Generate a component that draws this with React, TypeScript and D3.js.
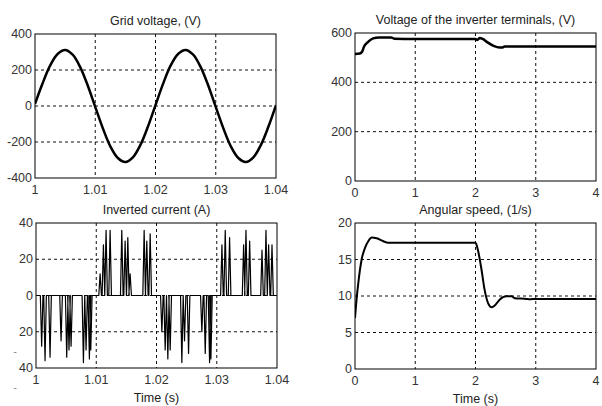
import React from 'react';
import * as d3 from 'd3';

// ---- Data ----
const gridTime = [1, 1.00125, 1.0025, 1.00375, 1.005, 1.00625, 1.0075, 1.00875, 1.01, 1.01125, 1.0125, 1.01375, 1.015, 1.01625, 1.0175, 1.01875, 1.02, 1.02125, 1.0225, 1.02375, 1.025, 1.02625, 1.0275, 1.02875, 1.03, 1.03125, 1.0325, 1.03375, 1.035, 1.03625, 1.0375, 1.03875, 1.04];
const gridVolt = [12, 125, 224, 289, 311, 285, 216, 114, -5, -123, -224, -289, -311, -285, -216, -114, 5, 123, 224, 289, 311, 285, 216, 114, -5, -123, -224, -289, -311, -285, -216, -114, 5];

const spikeTimes = [1.00094, 1.0015, 1.00233, 1.00416, 1.0051, 1.00548, 1.00582, 1.00787, 1.00831, 1.00886, 1.00909,
  1.01064, 1.01119, 1.01163, 1.0123, 1.01424, 1.01479, 1.01524, 1.01562, 1.01795, 1.01839, 1.01895,
  1.02089, 1.02144, 1.02188, 1.02227, 1.02421, 1.02465, 1.02532, 1.02753, 1.02809, 1.02881, 1.02903,
  1.03086, 1.03141, 1.03213, 1.03446, 1.03485, 1.03546, 1.03751, 1.03817, 1.03861, 1.03917];
const spikePeaks = [-28, -36, -34, -25, -34, -30, -28, -37, -30, -35, -30,
  12, 28, 36, 36, 36, 30, 32, 12, 36, 30, 34,
  -20, -30, -35, -30, -37, -25, -32, -20, -32, -37, -35,
  28, 36, 32, 28, 36, 30, 25, 36, 28, 28];

const invTime = [0, 0.08, 0.12, 0.15, 0.2, 0.3, 0.4, 0.6, 0.65, 1.0, 2.0, 2.03, 2.07, 2.12, 2.2, 2.3, 2.4, 2.45, 2.48, 3.0, 4.0];
const invVolt = [515, 517, 525, 545, 560, 578, 582, 582, 577, 576, 576, 572, 580, 576, 562, 548, 541, 541, 545, 545, 545];

const speedTime = [0, 0.02, 0.055, 0.11, 0.166, 0.22, 0.28, 0.36, 0.47, 0.55, 1.0, 2.0, 2.04, 2.1, 2.15, 2.21, 2.27, 2.32, 2.4, 2.51, 2.6, 2.65, 2.85, 2.9, 3.0, 4.0];
const speedVal = [7.0, 9.0, 11.8, 15.0, 16.6, 17.5, 18.0, 17.9, 17.5, 17.3, 17.3, 17.3, 16.3, 13.6, 10.9, 9.0, 8.45, 8.7, 9.5, 9.95, 9.95, 9.7, 9.6, 9.55, 9.6, 9.6];

const gridXTicks = [1, 1.01, 1.02, 1.03, 1.04];
const gridXLabels = ['1', '1.01', '1.02', '1.03', '1.04'];
const gridYTicks = [-400, -200, 0, 200, 400];
const gridYLabels = ['-400', '-200', '0', '200', '400'];
const curYTicks = [-40, -20, 0, 20, 40];
const curYLabels = ['40', '20', '0', '20', '40'];
const secXTicks = [0, 1, 2, 3, 4];
const secXLabels = ['0', '1', '2', '3', '4'];
const invYTicks = [0, 200, 400, 600];
const invYLabels = ['0', '200', '400', '600'];
const speedYTicks = [0, 5, 10, 15, 20];
const speedYLabels = ['0', '5', '10', '15', '20'];

type Pt = [number, number];

const FONT = 'Arial, "Liberation Sans", sans-serif';

interface PanelProps {
  id: string;
  left: number; top: number; right: number; bottom: number;
  xTicks: number[]; xLabels: string[];
  yTicks: number[]; yLabels: string[];
  title: string; xLabel?: string;
  data: Pt[];
  sw: number;
  curve: d3.CurveFactory;
}

function Panel(p: PanelProps) {
  const x = d3.scaleLinear().domain([p.xTicks[0], p.xTicks[p.xTicks.length - 1]]).range([p.left, p.right]);
  const y = d3.scaleLinear().domain([p.yTicks[0], p.yTicks[p.yTicks.length - 1]]).range([p.bottom, p.top]);
  const line = d3.line<Pt>().x(d => x(d[0])).y(d => y(d[1])).curve(p.curve);
  const cx = (p.left + p.right) / 2;
  return (
    <g>
      <defs>
        <clipPath id={p.id}>
          <rect x={p.left} y={p.top - 2} width={p.right - p.left} height={p.bottom - p.top + 4} />
        </clipPath>
      </defs>
      {p.xTicks.slice(1, -1).map(t => (
        <line key={'gx' + t} x1={x(t)} x2={x(t)} y1={p.top} y2={p.bottom} stroke="#111" strokeWidth={1} strokeDasharray="3,3" />
      ))}
      {p.yTicks.slice(1, -1).map(t => (
        <line key={'gy' + t} x1={p.left} x2={p.right} y1={y(t)} y2={y(t)} stroke="#111" strokeWidth={1} strokeDasharray="3,3" />
      ))}
      <path d={line(p.data) || ''} fill="none" stroke="#000" strokeWidth={p.sw} strokeLinejoin="round" clipPath={`url(#${p.id})`} />
      <rect x={p.left} y={p.top} width={p.right - p.left} height={p.bottom - p.top} fill="none" stroke="#000" strokeWidth={1} />
      {p.xTicks.map((t, i) => (
        <text key={'xl' + t} x={x(t)} y={p.bottom + 16} textAnchor="middle" fontSize={12.5} fill="#333" fontFamily={FONT}>{p.xLabels[i]}</text>
      ))}
      {p.yTicks.map((t, i) => (
        <text key={'yl' + t} x={p.left - 3} y={y(t) + 4} textAnchor="end" fontSize={12.5} fill="#333" fontFamily={FONT}>{p.yLabels[i]}</text>
      ))}
      <text x={cx} y={p.top - 9} textAnchor="middle" fontSize={12.5} fill="#222" fontFamily={FONT}>{p.title}</text>
      {p.xLabel && (
        <text x={cx} y={p.bottom + 34} textAnchor="middle" fontSize={12.5} fill="#222" fontFamily={FONT}>{p.xLabel}</text>
      )}
    </g>
  );
}

export default function App() {
  const gridData: Pt[] = gridTime.map((t, i) => [t, gridVolt[i]]);
  const curData: Pt[] = [[1, 0]];
  spikeTimes.forEach((t, i) => {
    curData.push([t - 0.00022, 0], [t, spikePeaks[i]], [t + 0.00022, 0]);
  });
  curData.push([1.04, 0]);
  const invData: Pt[] = invTime.map((t, i) => [t, invVolt[i]]);
  const speedData: Pt[] = speedTime.map((t, i) => [t, speedVal[i]]);

  return (
    <svg width={602} height={406} style={{ position: 'fixed', left: 0, top: 0, background: '#fff' }}>
      <rect x={0} y={0} width={602} height={406} fill="#fff" />
      <Panel id="c1" left={35} top={34} right={276} bottom={178}
        xTicks={gridXTicks} xLabels={gridXLabels} yTicks={gridYTicks} yLabels={gridYLabels}
        title="Grid voltage, (V)" data={gridData} sw={2.5} curve={d3.curveCatmullRom} />
      <Panel id="c2" left={355} top={33} right={596} bottom={181}
        xTicks={secXTicks} xLabels={secXLabels} yTicks={invYTicks} yLabels={invYLabels}
        title="Voltage of the inverter terminals, (V)" data={invData} sw={2.5} curve={d3.curveMonotoneX} />
      <Panel id="c3" left={36} top={223} right={277} bottom={368}
        xTicks={gridXTicks} xLabels={gridXLabels} yTicks={curYTicks} yLabels={curYLabels}
        title="Inverted current (A)" xLabel="Time (s)" data={curData} sw={1.2} curve={d3.curveLinear} />
      <Panel id="c4" left={355} top={223} right={596} bottom={369}
        xTicks={secXTicks} xLabels={secXLabels} yTicks={speedYTicks} yLabels={speedYLabels}
        title="Angular speed, (1/s)" xLabel="Time (s)" data={speedData} sw={2} curve={d3.curveMonotoneX} />
      <text x={15} y={355} textAnchor="middle" fontSize={11} fill="#888" fontFamily={FONT}>-</text>
      <text x={15} y={391} textAnchor="middle" fontSize={11} fill="#888" fontFamily={FONT}>-</text>
    </svg>
  );
}
